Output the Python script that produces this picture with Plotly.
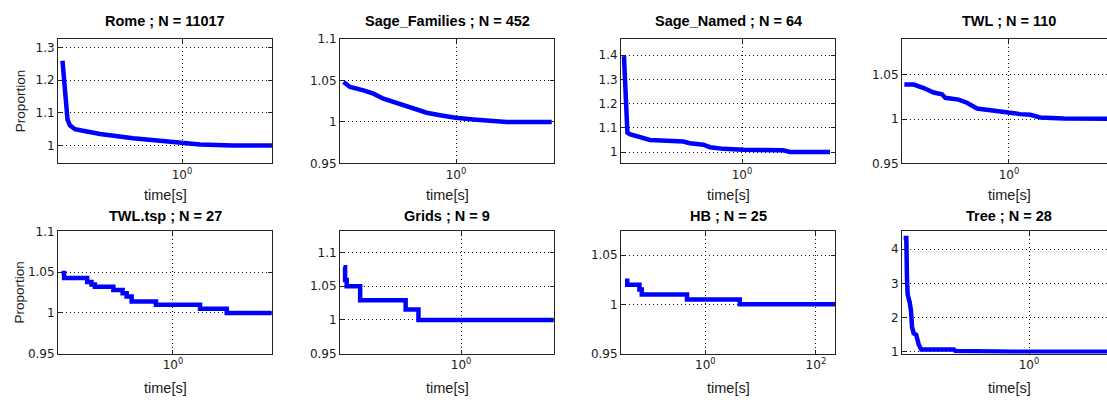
import plotly.graph_objects as go

# ---------------- data ----------------
titles = ["Rome ; N = 11017", "Sage_Families ; N = 452", "Sage_Named ; N = 64", "TWL ; N = 110",
          "TWL.tsp ; N = 27", "Grids ; N = 9", "HB ; N = 25", "Tree ; N = 28"]

rome_t = [0.140, 0.1436, 0.148, 0.152, 0.158, 0.172, 0.196, 0.260, 0.447, 0.782, 1.02, 1.35, 2.31, 4.39]
rome_v = [1.26, 1.20, 1.12, 1.08, 1.062, 1.05, 1.045, 1.035, 1.022, 1.012, 1.009, 1.003, 1.000, 1.000]

sfam_t = [0.157, 0.175, 0.218, 0.257, 0.303, 0.377, 0.495, 0.617, 0.769, 0.995, 1.33, 1.66, 2.30, 4.83]
sfam_v = [1.048, 1.042, 1.038, 1.034, 1.028, 1.023, 1.017, 1.011, 1.008, 1.005, 1.003, 1.0015, 1.000, 1.000]

snam_t = [0.1436, 0.146, 0.148, 0.152, 0.158, 0.187, 0.220, 0.290, 0.381, 0.425, 0.529, 0.591, 0.735, 1.02, 1.97, 2.20, 4.25]
snam_v = [1.396, 1.315, 1.168, 1.080, 1.074, 1.060, 1.050, 1.047, 1.043, 1.036, 1.030, 1.020, 1.013, 1.009, 1.007, 1.000, 1.000]

twl_t = [0.179, 0.209, 0.246, 0.290, 0.332, 0.351, 0.437, 0.501, 0.591, 0.735, 0.916, 1.205, 1.42, 1.67, 2.46, 5.81]
twl_v = [1.039, 1.039, 1.035, 1.030, 1.028, 1.024, 1.022, 1.0185, 1.012, 1.010, 1.0074, 1.0056, 1.0048, 1.0019, 1.0007, 1.0004]

tsp_t = [0.160, 0.167, 0.244, 0.262, 0.277, 0.375, 0.437, 0.467, 0.507, 0.756, 1.56, 2.42, 5.07]
tsp_v = [1.049, 1.043, 1.038, 1.035, 1.032, 1.028, 1.024, 1.020, 1.014, 1.010, 1.005, 1.000, 1.000]

grid_t = [0.147, 0.151, 0.155, 0.193, 0.405, 0.499, 4.52]
grid_v = [1.078, 1.059, 1.050, 1.029, 1.0155, 1.000, 1.000]

hb_t = [0.0351, 0.0386, 0.0640, 0.0706, 0.465, 4.20, 221.0]
hb_v = [1.024, 1.020, 1.015, 1.010, 1.005, 1.000, 1.000]

tree_t = [0.1273, 0.133, 0.1345, 0.136, 0.1406, 0.1436, 0.146, 0.150, 0.1567, 0.163, 0.170, 0.290, 0.298, 0.778, 4.18]
tree_v = [4.33, 4.33, 3.10, 2.67, 2.44, 2.20, 1.73, 1.54, 1.49, 1.21, 1.066, 1.066, 1.02, 1.00, 1.00]

series = [(rome_t, rome_v, "linear"), (sfam_t, sfam_v, "linear"), (snam_t, snam_v, "linear"),
          (twl_t, twl_v, "linear"), (tsp_t, tsp_v, "hv"), (grid_t, grid_v, "hv"),
          (hb_t, hb_v, "hv"), (tree_t, tree_v, "linear")]

ytick_vals = [[1, 1.1, 1.2, 1.3], [0.95, 1, 1.05, 1.1], [1, 1.1, 1.2, 1.3, 1.4], [0.95, 1, 1.05],
              [0.95, 1, 1.05, 1.1], [0.95, 1, 1.05, 1.1], [0.95, 1, 1.05], [1, 2, 3, 4]]
ytick_text = [["1", "1.1", "1.2", "1.3"], ["0.95", "1", "1.05", "1.1"], ["1", "1.1", "1.2", "1.3", "1.4"],
              ["0.95", "1", "1.05"], ["0.95", "1", "1.05", "1.1"], ["0.95", "1", "1.05", "1.1"],
              ["0.95", "1", "1.05"], ["1", "2", "3", "4"]]
xtick_vals = [[1], [1], [1], [1], [1], [1], [1, 100], [1]]
xtick_text = [["10<sup>0</sup>"]] * 6 + [["10<sup>0</sup>", "10<sup>2</sup>"], ["10<sup>0</sup>"]]

# ---------------- layout geometry ----------------
W, H = 1107, 406
col_px = [(58, 272), (340, 554), (621, 835), (902, 1107)]
row_px = [(33, 162), (232.5, 359)]
xranges = [[-0.886, 0.643], [-0.829, 0.700], [-0.864, 0.664], [-0.764, 0.700],
           [-0.821, 0.707], [-0.857, 0.657], [-1.527, 2.345], [-0.907, 0.557]]
yranges = [[0.945, 1.327], [0.95, 1.10], [0.953, 1.467], [0.95, 1.0905],
           [0.95, 1.10], [0.95, 1.131], [0.95, 1.074], [0.943, 4.52]]

FONT = "DejaVu Sans, Verdana, sans-serif"
SANS = "Liberation Sans, Arial, Helvetica, sans-serif"
TXT = "#1a1a1a"
DOTS = "1px,3px"
fig = go.Figure()
layout = dict(width=W, height=H, margin=dict(l=0, r=0, t=0, b=0),
              paper_bgcolor="white", plot_bgcolor="white", showlegend=False,
              font=dict(family=FONT, size=12, color=TXT))
annotations = []

for i in range(8):
    r, c = divmod(i, 4)
    k = i + 1
    t, v, shape = series[i]
    fig.add_trace(go.Scatter(x=t, y=v, mode="lines", line=dict(color="#0000ff", width=4.5, shape=shape),
                             xaxis=f"x{k}", yaxis=f"y{k}", hoverinfo="skip"))
    x0, x1 = col_px[c]
    ytop, ybot = row_px[r]
    last = (c == 3)
    layout[f"xaxis{k}"] = dict(domain=[x0 / W, x1 / W], anchor=f"y{k}", type="log", range=xranges[i],
                               tickvals=xtick_vals[i], ticktext=xtick_text[i], ticks="inside", ticklen=4,
                               tickcolor="#222", showline=True, linecolor="#222", linewidth=1,
                               mirror="ticks", showgrid=True, gridcolor="#111", griddash=DOTS,
                               gridwidth=1, zeroline=False, fixedrange=True,
                               tickfont=dict(size=12, family=FONT, color=TXT))
    layout[f"yaxis{k}"] = dict(domain=[1 - ybot / H, 1 - ytop / H], anchor=f"x{k}", range=yranges[i],
                               tickvals=ytick_vals[i], ticktext=ytick_text[i], ticks="inside", ticklen=4,
                               tickcolor="#222", showline=True, linecolor="#222", linewidth=1,
                               mirror=(False if last else "ticks"), showgrid=True, gridcolor="#111",
                               griddash=DOTS, gridwidth=1, zeroline=False, fixedrange=True,
                               tickfont=dict(size=12, family=FONT, color=TXT))
    cx = (x0 + (x0 + 214)) / 2 / W
    ty = 15 if r == 0 else 216
    annotations.append(dict(text=f"<b>{titles[i]}</b>", x=cx, y=1 - ty / H, xref="paper", yref="paper",
                            xanchor="center", yanchor="middle", showarrow=False,
                            font=dict(size=14.5, family=SANS, color="black")))
    ly = 195 if r == 0 else 395
    annotations.append(dict(text="time[s]", x=cx, y=1 - ly / H, xref="paper", yref="paper",
                            xanchor="center", yanchor="middle", showarrow=False,
                            font=dict(size=14.5, family=SANS, color=TXT)))
    if c == 0:
        cy = (ytop + ybot) / 2
        annotations.append(dict(text="Proportion", x=20 / W, y=1 - cy / H, xref="paper", yref="paper",
                                xanchor="center", yanchor="middle", textangle=-90, showarrow=False,
                                font=dict(size=13.5, family=SANS, color=TXT)))

layout["annotations"] = annotations
fig.update_layout(**layout)
fig.write_html("out.html")
